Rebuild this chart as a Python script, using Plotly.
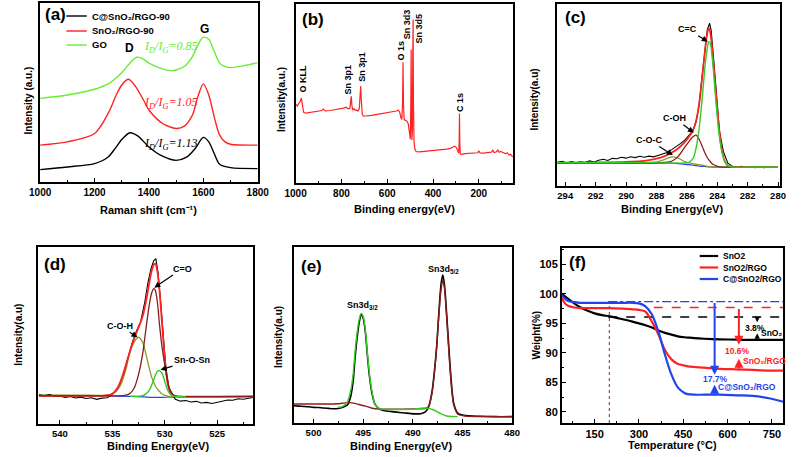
import plotly.graph_objects as go

W, H = 803, 457
FONT = "Arial, Liberation Sans, sans-serif"
SERIF = "Liberation Serif, Times New Roman, serif"

# ---------------- (a) Raman ----------------
a_go_x = [1000, 1100, 1200, 1250, 1300, 1330, 1355, 1380, 1400, 1450, 1480, 1500, 1530, 1560, 1580, 1600, 1620, 1640, 1660, 1680, 1700, 1750, 1800]
a_go_y = [46.7, 48.6, 51.8, 54.8, 61.1, 66.4, 69.7, 68.6, 66.4, 63.2, 62.2, 62.6, 64.5, 70.1, 76.6, 80.9, 79.8, 72.9, 66.4, 64.5, 63.9, 65.0, 66.7]
a_sn_x = [1000, 1100, 1200, 1250, 1280, 1300, 1325, 1350, 1380, 1400, 1450, 1500, 1530, 1560, 1580, 1600, 1620, 1640, 1660, 1680, 1700, 1800]
a_sn_y = [20.6, 22.4, 27.1, 38.3, 48.6, 54.2, 57.4, 53.6, 45.8, 40.2, 32.7, 29.9, 31.2, 37.4, 47.7, 54.8, 48.6, 36.4, 26.2, 22.4, 21.1, 20.6]
a_c_x = [1000, 1100, 1200, 1250, 1280, 1300, 1330, 1360, 1400, 1450, 1500, 1540, 1570, 1600, 1620, 1640, 1660, 1700, 1800]
a_c_y = [6.9, 8.4, 10.3, 14.0, 19.6, 23.7, 27.5, 25.6, 19.6, 14.4, 12.1, 14.0, 18.7, 24.9, 22.4, 15.9, 9.9, 8.0, 7.5]
a_names = ["C@SnO₂/RGO-90", "SnO₂/RGO-90", "GO"]
a_ratios = ["0.85", "1.05", "1.13"]

# ---------------- (b) XPS survey ----------------
b_be = [1000, 992, 986, 980, 975, 971, 965, 955, 940, 920,
        900, 885, 880, 870, 850, 830, 810, 790, 780, 770,
        763, 760, 757, 754, 750, 745, 740, 735, 728, 722,
        719, 716, 713, 709, 704, 690, 670, 650, 630, 610,
        590, 570, 560, 552, 546, 540, 536, 533, 531, 529,
        526, 520, 514, 508, 503, 499, 497, 495.5, 494, 492,
        490, 488.5, 487, 485.5, 483, 479, 474, 460, 440, 420,
        400, 380, 360, 340, 325, 312, 305, 298, 292, 288,
        286, 284.5, 283, 281, 276, 260, 240, 220, 205, 200,
        195, 180, 160, 145, 139, 134, 125, 117, 112, 105,
        95, 85, 75, 68, 62, 55, 52]
b_int = [44.0, 43.0, 44.5, 45.5, 47.5, 43.0, 39.5, 39.0, 39.3, 39.6,
         39.8, 40.5, 41.3, 40.3, 40.5, 40.8, 41.2, 41.8, 42.3, 41.5,
         41.8, 44.0, 48.5, 43.0, 41.0, 41.5, 40.6, 40.8, 40.2, 41.5,
         47.0, 54.1, 46.0, 38.5, 37.3, 37.4, 37.8, 38.2, 38.6, 39.0,
         39.3, 39.6, 40.2, 40.7, 39.8, 36.5, 35.5, 45.0, 67.4, 44.0,
         35.4, 35.0, 34.6, 33.0, 28.0, 24.5, 45.0, 74.6, 40.0, 24.0,
         30.0, 70.0, 91.4, 45.0, 23.0, 19.0, 17.6, 17.4, 17.6, 17.8,
         18.0, 18.2, 18.5, 18.9, 19.3, 20.2, 20.6, 19.8, 17.0, 16.6,
         22.0, 38.8, 22.0, 16.2, 16.0, 16.4, 16.6, 16.7, 16.9, 18.0,
         16.8, 16.7, 16.9, 17.2, 18.5, 17.0, 17.3, 18.4, 17.2, 17.6,
         17.0, 16.4, 16.8, 15.6, 16.0, 14.8, 14.6]
b_peak_names = ["O KLL", "Sn 3p1", "Sn 3p1", "O 1s", "Sn 3d3", "Sn 3d5", "C 1s"]
b_label_be = [966, 770, 710, 541, 513, 461, 280]
b_label_int = [58.0, 58.0, 64.9, 73.9, 88.8, 86.4, 45.0]

# ---------------- (c) C 1s ----------------
c_be_raw = [294.5, 294.2, 293.9, 293.6, 293.3, 293.0, 292.7, 292.4, 292.1, 291.8,
            291.5, 291.2, 290.9, 290.6, 290.3, 290.0, 289.7, 289.4, 289.1, 288.8,
            288.5, 288.2, 287.9, 287.6, 287.3, 287.0, 286.7, 286.4, 286.1, 285.8,
            285.6, 285.4, 285.2, 285.0, 284.8, 284.65, 284.5, 284.4, 284.25, 284.05,
            283.85, 283.6, 283.3, 283.0, 282.7, 282.4, 282.1, 281.8, 281.5, 281.2,
            280.9, 280.6, 280.3, 280.0]
c_raw = [13.0, 13.6, 12.6, 13.4, 12.8, 13.3, 12.9, 13.8, 13.2, 14.2,
         14.7, 14.0, 15.2, 15.0, 15.8, 15.3, 16.1, 15.6, 16.3, 15.8,
         16.4, 16.0, 16.8, 17.5, 18.4, 20.0, 21.5, 23.4, 25.5, 28.5,
         30.5, 35.0, 44.0, 60.1, 76.6, 86.0, 89.4, 85.5, 71.0, 48.0,
         30.0, 19.0, 12.5, 10.8, 10.3, 10.8, 10.2, 10.6, 10.1, 10.5,
         10.0, 10.6, 10.2, 10.4]
c_be_fit = [294.5, 292, 290, 289, 288.5, 288, 287.5, 287, 286.6, 286.2,
            285.9, 285.6, 285.4, 285.2, 285.0, 284.8, 284.65, 284.55, 284.45, 284.3,
            284.1, 283.9, 283.7, 283.5, 283.3, 283.0, 282, 280]
c_sum = [12.8, 12.9, 13.2, 13.6, 14.2, 15.0, 16.3, 18.3, 20.5, 23.5,
         26.5, 30.5, 35.5, 44.5, 59.0, 75.0, 84.5, 86.6, 84.0, 72.0,
         52.0, 33.0, 20.0, 13.5, 11.2, 10.5, 10.4, 10.4]
c_cc = [12.8, 12.8, 12.8, 12.8, 12.8, 12.7, 12.7, 12.6, 12.6, 12.6,
        12.8, 15.0, 20.5, 31.0, 47.3, 66.0, 76.0, 79.3, 78.0, 68.0,
        48.0, 30.0, 19.0, 13.5, 11.2, 10.5, 10.4, 10.4]
c_coh = [12.5, 12.5, 12.5, 12.5, 12.5, 12.6, 12.9, 13.6, 16.0, 20.5,
         24.0, 27.0, 28.0, 25.8, 22.0, 18.0, 15.5, 14.3, 13.3, 12.0,
         11.2, 10.6, 10.4, 10.4, 10.4, 10.4, 10.4, 10.4]
c_coc = [12.8, 12.8, 12.8, 12.8, 12.9, 13.2, 14.5, 16.0, 15.5, 13.6,
         12.8, 12.2, 12.0, 11.7, 11.4, 11.1, 10.8, 10.7, 10.6, 10.5,
         10.4, 10.4, 10.4, 10.4, 10.4, 10.4, 10.4, 10.4]
c_base = [12.5, 12.5, 12.5, 12.5, 12.5, 12.5, 12.5, 12.5, 12.3, 12.0,
          11.7, 11.4, 11.2, 11.0, 10.8, 10.7, 10.6, 10.5, 10.5, 10.4,
          10.4, 10.4, 10.4, 10.4, 10.4, 10.4, 10.4, 10.4]
c_labels = ["C=C", "C-OH", "C-O-C"]
c_text_be = [285.96, 286.8, 288.5]
c_text_int = [86.1, 37.2, 25.3]
c_head_be = [284.62, 285.54, 286.92]
c_head_int = [79.3, 29.3, 17.0]

# ---------------- (d) O 1s ----------------
d_be_raw = [542.0, 541.5, 541.0, 540.5, 540.0, 539.5, 539.0, 538.5, 538.0, 537.5,
            537.0, 536.5, 536.0, 535.5, 535.1, 534.7, 534.3, 533.9, 533.5, 533.1,
            532.7, 532.3, 531.9, 531.6, 531.3, 531.05, 530.85, 530.65, 530.4, 530.15,
            529.9, 529.6, 529.3, 529.0, 528.5, 528.0, 527.5, 527.0, 526.5, 526.0,
            525.5, 525.0, 524.5, 524.0, 523.5, 523.0, 522.5, 522.0, 521.6]
d_raw = [16.5, 16.0, 16.6, 15.6, 15.9, 15.0, 15.5, 14.7, 15.2, 14.4,
         14.8, 13.9, 14.6, 14.8, 16.4, 18.4, 22.5, 29.0, 37.5, 46.0,
         52.5, 57.8, 69.0, 80.0, 88.0, 92.3, 93.4, 85.9, 69.5, 50.5,
         32.0, 20.5, 16.8, 14.0, 12.9, 13.3, 12.4, 12.8, 11.9, 12.2,
         11.6, 12.4, 12.9, 13.6, 13.4, 14.3, 14.0, 14.6, 15.0]
d_be_fit = [542, 538, 536, 535.3, 534.9, 534.5, 534.1, 533.7, 533.3, 532.9,
            532.5, 532.1, 531.8, 531.5, 531.25, 531.05, 530.9, 530.7, 530.5, 530.25,
            530.0, 529.75, 529.5, 529.2, 528.8, 528, 525, 521.6]
d_sum = [15.9, 15.9, 15.9, 16.3, 17.5, 20.5, 26.0, 33.5, 41.5, 48.5,
         54.5, 61.0, 69.0, 79.0, 86.5, 90.0, 90.6, 86.0, 75.0, 56.0,
         37.0, 24.0, 18.0, 16.0, 15.6, 15.5, 15.5, 15.6]
d_co = [15.9, 15.9, 15.9, 15.9, 15.9, 15.9, 16.0, 16.3, 17.4, 20.5,
        28.0, 40.0, 53.5, 66.5, 74.0, 76.5, 75.5, 68.5, 56.0, 43.0,
        33.4, 24.5, 19.0, 16.5, 15.6, 15.5, 15.5, 15.6]
d_coh = [16.5, 16.3, 16.2, 16.5, 17.5, 19.3, 23.5, 31.0, 40.9, 46.5,
         49.0, 46.0, 39.5, 32.0, 26.5, 23.5, 21.5, 19.8, 18.4, 17.0,
         16.2, 15.8, 15.5, 15.4, 15.4, 15.3, 15.3, 15.4]
d_be_sn = [533.3, 532.9, 532.5, 532.1, 531.8, 531.5, 531.25, 531.05, 530.9, 530.7,
           530.5, 530.25, 530.0, 529.75, 529.5, 529.2, 528.8, 528]
d_snosn = [15.6, 15.6, 15.7, 16.0, 17.0, 18.8, 22.0, 25.0, 27.5, 29.8,
           30.2, 28.5, 24.0, 19.5, 17.0, 15.8, 15.5, 15.4]
d_be_base = [535.3, 533, 531, 530, 529]
d_base = [15.9, 15.6, 15.0, 15.1, 15.3]
d_labels = ["C=O", "C-O-H", "Sn-O-Sn"]
d_text_be = [528.3, 534.3, 527.4]
d_text_int = [87.8, 55.5, 36.2]
d_head_be = [531.0, 532.6, 530.4]
d_head_int = [77.0, 49.0, 30.6]

# ---------------- (e) Sn 3d ----------------
e_be_raw = [502.03, 501.47, 500.98, 500.49, 500.0, 499.51, 499.02, 498.53, 498.04, 497.55,
            497.06, 496.57, 496.24, 496.01, 495.82, 495.62, 495.42, 495.2, 495.0, 494.77,
            494.58, 494.38, 494.12, 493.79, 493.3, 492.65, 491.83, 490.85, 489.87, 489.22,
            488.73, 488.4, 488.07, 487.84, 487.61, 487.39, 487.16, 486.99, 486.83, 486.6,
            486.37, 486.14, 485.88, 485.46, 484.64, 483.33, 481.7, 480.0]
e_raw = [9.8, 9.6, 9.4, 9.2, 8.9, 8.8, 8.5, 8.3, 8.1, 8.2,
         8.9, 10.4, 15.5, 24.0, 36.8, 48.0, 56.5, 61.7, 59.5, 51.0,
         38.5, 27.0, 17.0, 10.4, 7.8, 6.8, 6.3, 5.7, 5.2, 5.3,
         6.3, 9.4, 18.0, 29.0, 43.0, 62.0, 79.0, 84.0, 79.0, 62.0,
         42.0, 24.0, 11.0, 5.5, 4.2, 3.8, 3.6, 3.6]
e_be_d52 = [502.03, 500.0, 498.04, 497.06, 496.57, 496.01, 495.42, 494.77, 494.12, 493.3,
            491.83, 489.87, 488.73, 488.4, 488.07, 487.84, 487.61, 487.39, 487.16, 486.99,
            486.83, 486.6, 486.37, 486.14, 485.88, 485.46, 484.64, 483.33, 480.0]
e_d52 = [10.8, 10.8, 10.8, 11.2, 11.7, 11.3, 10.5, 9.6, 8.4, 7.9,
         7.9, 8.0, 8.3, 9.6, 17.0, 28.0, 43.0, 61.0, 76.0, 81.1,
         77.0, 60.0, 40.0, 22.0, 10.0, 5.0, 3.9, 3.7, 3.6]
e_be_d32 = [497.55, 497.06, 496.57, 496.24, 496.01, 495.82, 495.62, 495.42, 495.2, 495.0,
            494.77, 494.58, 494.38, 494.12, 493.79, 493.3, 491.83, 489.87, 489.22, 488.73,
            488.4, 488.07, 487.61, 487.16, 486.6, 486.14, 485.5]
e_d32 = [8.8, 9.4, 12.3, 19.0, 28.0, 40.6, 51.0, 58.5, 62.3, 60.5,
         52.0, 40.0, 28.5, 18.0, 10.4, 8.0, 7.7, 7.9, 8.4, 8.5,
         8.3, 7.8, 6.6, 5.2, 4.0, 3.7, 3.6]
e_labels = ["Sn3d<sub>3/2</sub>", "Sn3d<sub>5/2</sub>"]
e_text_be = [495.1, 486.9]
e_text_int = [66.8, 87.2]

# ---------------- (f) TGA ----------------
f_T = [39, 50, 60, 81, 100, 125, 150, 175, 201, 245,
       278, 300, 322, 344, 366, 388, 410, 432, 454, 465,
       487, 520, 574, 630, 684, 740, 788]
f_sno2 = [100.0, 99.6, 99.2, 98.4, 97.8, 97.2, 96.7, 96.4, 96.2, 95.7,
          95.3, 95.0, 94.7, 94.3, 93.8, 93.4, 93.1, 92.8, 92.65, 92.6,
          92.5, 92.4, 92.3, 92.25, 92.2, 92.2, 92.2]
f_sno2_rgo = [99.3, 98.4, 98.0, 97.7, 97.6, 97.6, 97.6, 97.6, 97.6, 97.5,
              97.4, 97.3, 97.0, 95.3, 93.1, 90.5, 88.9, 88.1, 87.85, 87.7,
              87.6, 87.5, 87.3, 87.2, 87.1, 87.0, 87.0]
f_c_sno2_rgo = [99.8, 99.2, 98.8, 98.6, 98.5, 98.5, 98.5, 98.5, 98.5, 98.5,
                98.5, 98.4, 97.9, 96.5, 93.6, 89.7, 86.3, 84.1, 83.2, 83.0,
                82.9, 82.9, 82.9, 82.8, 82.7, 82.3, 81.7]
f_names = ["SnO2", "SnO2/RGO", "C@SnO2/RGO"]
f_plateau = [96.1, 97.7, 98.7]        # dashed reference levels
f_plateau_start = [196, 350, 196]
f_final = [92.2, 87.1, 82.9]
f_arrow_T = [700, 638, 556]
f_loss_text = ["3.8%", "10.6%", "17.7%"]
f_loss_T = [692, 635, 558]
f_loss_y = [94.2, 90.4, 85.5]
f_down_head = [95.2, 91.4, 86.3]
f_up_head = [93.3, 89.0, 84.6]
f_sample_text = ["SnO₂", "SnO₂/RGO", "C@SnO₂/RGO"]
f_sample_T = [750, 726, 664]
f_sample_y = [93.3, 88.7, 84.2]
f_vline_T = 200

# ---------------- colours ----------------
RED = "#ff2222"
GREEN = "#33cc22"
LIME = "#66ee33"
DRED = "#8b1c1c"
OLIVE = "#8c9a2c"
BLUE = "#2244ee"

fig = go.Figure()

def ax(n):
    return ("x" if n == 1 else f"x{n}"), ("y" if n == 1 else f"y{n}")

def line(n, x, y, color, width=1.5, shape="spline", dash=None):
    xa, ya = ax(n)
    fig.add_trace(go.Scatter(x=x, y=y, mode="lines", xaxis=xa, yaxis=ya, showlegend=False,
                             line=dict(color=color, width=width, shape=shape, dash=dash,
                                       **({"smoothing": 0.8} if shape == "spline" else {})),
                             hoverinfo="skip"))

# (a)
line(1, a_c_x, a_c_y, "black", 1.4)
line(1, a_sn_x, a_sn_y, RED, 1.4)
line(1, a_go_x, a_go_y, LIME, 1.4)
# (b)
line(2, b_be, b_int, RED, 1.2, "linear")
# (c)
line(3, c_be_fit, c_base, BLUE, 1.2)
line(3, c_be_fit, c_coc, OLIVE, 1.3)
line(3, c_be_fit, c_coh, DRED, 1.3)
line(3, c_be_raw, c_raw, "black", 1.1, "linear")
line(3, c_be_fit, c_sum, RED, 1.8)
line(3, c_be_fit, c_cc, GREEN, 1.4)
# (d)
line(4, d_be_base, d_base, BLUE, 1.2)
line(4, d_be_fit, d_coh, OLIVE, 1.3)
line(4, d_be_raw, d_raw, "black", 1.1, "linear")
line(4, d_be_fit, d_sum, RED, 1.8)
line(4, d_be_fit, d_co, DRED, 1.3)
line(4, d_be_sn, d_snosn, GREEN, 1.4)
# (e)
line(5, e_be_raw, e_raw, "black", 1.6)
line(5, e_be_d52, e_d52, DRED, 1.4)
line(5, e_be_d32, e_d32, GREEN, 1.4)
# (f)
f_cols = ["black", RED, BLUE]
f_dash = ["dash", "dash", "dashdot"]
for i in range(3):
    line(6, [f_plateau_start[i], 788], [f_plateau[i], f_plateau[i]], f_cols[i], 1.4, "linear", f_dash[i])
line(6, [f_vline_T, f_vline_T], [78.1, f_plateau[2]], "#9a3d8f", 1.2, "linear", "dot")
for ys, c in zip([f_sno2, f_sno2_rgo, f_c_sno2_rgo], f_cols):
    line(6, f_T, ys, c, 2.2)

# ---------------- axes ----------------
panels = {
    1: dict(x=(30, 254), y=(3, 182), r=[1000, 1800], dt=200, mdt=100, fs=10),
    2: dict(x=(293, 517), y=(4, 183), r=[1000, 50], dt=200, mdt=100, fs=10),
    3: dict(x=(562, 792), y=(4, 186), r=[294.55, 279.85], dt=2, mdt=1, fs=9.5),
    4: dict(x=(28, 249), y=(247, 424), r=[542.07, 521.6], dt=5, mdt=2.5, fs=9.5),
    5: dict(x=(291, 516), y=(247, 423), r=[502.0, 480.0], dt=5, mdt=2.5, fs=9.5),
    6: dict(x=(567, 795), y=(248, 423), r=[39, 788], dt=150, mdt=75, fs=11),
}
layout = dict(width=W, height=H, margin=dict(l=0, r=0, t=0, b=0),
              paper_bgcolor="white", plot_bgcolor="white",
              font=dict(family=FONT, color="black"), showlegend=False)
for n, p in panels.items():
    xk = "xaxis" if n == 1 else f"xaxis{n}"
    yk = "yaxis" if n == 1 else f"yaxis{n}"
    xa, ya = ax(n)
    common = dict(showline=True, mirror=True, linecolor="black", linewidth=1.5,
                  showgrid=False, zeroline=False, ticks="inside", ticklen=4, tickwidth=1.2,
                  tickcolor="black", fixedrange=True)
    layout[xk] = dict(domain=[p["x"][0] / W, p["x"][1] / W], anchor=ya, range=p["r"],
                      dtick=p["dt"], tick0=0,
                      tickfont=dict(size=p["fs"], family=FONT, weight="bold"),
                      minor=dict(dtick=p["mdt"], ticks="inside", ticklen=2.5, tickcolor="black", tick0=0),
                      **common)
    if n == 6:
        layout[yk] = dict(domain=[1 - p["y"][1] / H, 1 - p["y"][0] / H], anchor=xa,
                          range=[78.1, 107.8], dtick=5, tick0=0,
                          tickfont=dict(size=11, family=FONT, weight="bold"),
                          minor=dict(dtick=2.5, ticks="inside", ticklen=2.5, tickcolor="black"),
                          **common)
    else:
        layout[yk] = dict(domain=[1 - p["y"][1] / H, 1 - p["y"][0] / H], anchor=xa,
                          range=[0, 100], showticklabels=False, tickvals=[],
                          **{**common, "ticks": ""})
fig.update_layout(**layout)

ann = []
shapes = []

def txt(x, y, text, size=10, color="black", ref=None, angle=0, xanchor="center", yanchor="middle", bold=True, family=FONT):
    d = dict(x=x, y=y, text=text, showarrow=False, textangle=angle,
             xanchor=xanchor, yanchor=yanchor,
             font=dict(size=size, color=color, family=family, weight="bold" if bold else "normal"))
    if ref is None:
        d.update(xref="paper", yref="paper", x=x / W, y=1 - y / H)
    else:
        d.update(xref=ref[0], yref=ref[1])
    ann.append(d)

# panel letters
for lab, (px, py) in zip(["(a)", "(b)", "(c)", "(d)", "(e)", "(f)"],
                         [(33, 15), (298, 19), (568, 18), (32, 264), (297, 266), (572, 262)]):
    txt(px, py, lab, size=17, xanchor="left")

# axis titles
xtitles = ["Raman shift (cm⁻¹)", "Binding energy(eV)", "Binding Energy(eV)",
           "Binding Energy(eV)", "Binding Energy(eV)", "Temperature (°C)"]
xt_pos = [(142, 210), (405, 209), (680, 209), (151, 446), (401, 446), (681, 445)]
ytitles = ["Intensity (a.u.)", "Intensity(a.u.)", "Intensity(a.u)", "Intensity(a.u)", "Intensity(a.u)", "Weight(%)"]
yt_pos = [(18, 100), (278, 100), (538, 100), (7, 335), (275, 337), (540, 335)]
for t, (px, py) in zip(xtitles, xt_pos):
    txt(px, py, t, size=11)
for t, (px, py) in zip(ytitles, yt_pos):
    txt(px, py, t, size=10, angle=-90)

# (a) annotations
txt(1327, 74.8, "D", size=12, ref=("x", "y"))
txt(1603, 85.4, "G", size=12, ref=("x", "y"))
for r, yv, c in zip(a_ratios, [75.7, 43.9, 21.1], [LIME, RED, "black"]):
    txt(1481, yv, f"<i>I<sub>D</sub>/I<sub>G</sub>={r}</i>", size=12, color=c, ref=("x", "y"),
        bold=False, family=SERIF)
# manual legend (a)
for name, c, py in zip(a_names, ["black", RED, LIME], [16, 31, 45]):
    shapes.append(dict(type="line", xref="paper", yref="paper", x0=57 / W, x1=78 / W,
                       y0=1 - py / H, y1=1 - py / H, line=dict(color=c, width=1.4)))
    txt(81, py, name, size=9.5, xanchor="left")

# (b) peak labels
for nm, be, iv in zip(b_peak_names, b_label_be, b_label_int):
    txt(be, iv, nm, size=9, ref=("x2", "y2"), angle=-90)

# (c) and (d) arrows
for labs, tb, ti, hb, hi, n in [(c_labels, c_text_be, c_text_int, c_head_be, c_head_int, 3),
                                (d_labels, d_text_be, d_text_int, d_head_be, d_head_int, 4)]:
    xa, ya = ax(n)
    for lab, a1, a2, h1, h2 in zip(labs, tb, ti, hb, hi):
        ann.append(dict(x=h1, y=h2, ax=a1, ay=a2, xref=xa, yref=ya, axref=xa, ayref=ya,
                        text=lab, showarrow=True, arrowhead=2, arrowsize=1, arrowwidth=1.2,
                        arrowcolor="black", standoff=0,
                        font=dict(size=9, family=FONT, color="black", weight="bold")))

# (e) labels
for lab, be, iv in zip(e_labels, e_text_be, e_text_int):
    txt(be, iv, lab, size=9, ref=("x5", "y5"))

# (f) arrows and labels
for i in range(3):
    c = f_cols[i]
    ann.append(dict(x=f_arrow_T[i], y=f_down_head[i], ax=f_arrow_T[i], ay=f_plateau[i],
                    xref="x6", yref="y6", axref="x6", ayref="y6", text="", showarrow=True,
                    arrowhead=2, arrowsize=0.9, arrowwidth=2 if i else 1.2, arrowcolor=c))
    ann.append(dict(x=f_arrow_T[i], y=f_up_head[i], ax=f_arrow_T[i], ay=f_final[i],
                    xref="x6", yref="y6", axref="x6", ayref="y6", text="", showarrow=True,
                    arrowhead=2, arrowsize=0.9, arrowwidth=2 if i else 1.2, arrowcolor=c))
    txt(f_loss_T[i], f_loss_y[i], f_loss_text[i], size=8.5, color=c, ref=("x6", "y6"))
    txt(f_sample_T[i], f_sample_y[i], f_sample_text[i], size=8.5, color=c, ref=("x6", "y6"))
# manual legend (f)
for name, c, py in zip(f_names, f_cols, [256, 267.5, 279]):
    shapes.append(dict(type="line", xref="paper", yref="paper", x0=709 / W, x1=728 / W,
                       y0=1 - py / H, y1=1 - py / H, line=dict(color=c, width=2.2)))
    txt(731, py, name, size=8.5, xanchor="left")

fig.update_layout(annotations=ann, shapes=shapes)
fig.write_html("out.html", config={"displayModeBar": False},
               post_script="document.body.style.margin='0px';")
